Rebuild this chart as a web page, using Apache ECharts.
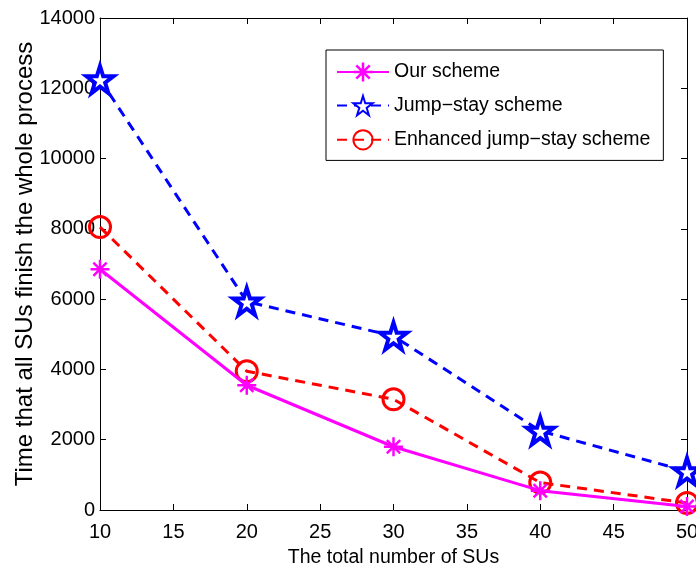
<!DOCTYPE html>
<html>
<head>
<meta charset="utf-8">
<script src="https://cdn.jsdelivr.net/npm/echarts@6/dist/echarts.min.js"></script>
<style>html,body{margin:0;padding:0;background:#fff}#c{width:696px;height:573px}</style>
</head>
<body>
<div id="c"></div>
<script>
const xValues = [10, 20, 30, 40, 50];
const ourScheme = [6850, 3550, 1800, 550, 100];
const jumpStay = [12250, 5930, 4950, 2250, 1100];
const enhancedJumpStay = [8050, 3950, 3150, 780, 200];
const seriesNames = ['Our scheme', 'Jump\u2212stay scheme', 'Enhanced jump\u2212stay scheme'];
const xTitle = 'The total number of SUs';
const yTitle = 'Time that all SUs finish the whole process';

const FONT = '"Liberation Sans", Arial, Helvetica, sans-serif';
const asterisk = 'path://M0 43.5 L100 43.5 L100 56.5 L0 56.5 Z M43.5 0 L56.5 0 L56.5 100 L43.5 100 Z M10.4 19.6 L19.6 10.4 L89.6 80.4 L80.4 89.6 Z M80.4 10.4 L89.6 19.6 L19.6 89.6 L10.4 80.4 Z';
const star = 'path://M50 0 L61.23 34.55 L97.55 34.55 L68.16 55.9 L79.39 90.45 L50 69.1 L20.61 90.45 L31.84 55.9 L2.45 34.55 L38.77 34.55 Z';

function pairs(vals){ return xValues.map((x,i)=>[x, vals[i]]); }

const axisCommon = {
  axisLine: {show: true, onZero: false, lineStyle: {color: '#000', width: 1}},
  axisTick: {show: true, inside: true, length: 6, lineStyle: {color: '#000', width: 1}},
  splitLine: {show: false}
};

const chart = echarts.init(document.getElementById('c'), null, {renderer: 'canvas'});
chart.setOption({
  animation: false,
  backgroundColor: '#fff',
  textStyle: {fontFamily: FONT, color: '#000'},
  grid: {left: 100, top: 18, right: 9, bottom: 63, containLabel: false, outerBoundsMode: 'none'},
  legend: {
    orient: 'vertical',
    left: 326, top: 50,
    padding: [12, 13, 10, 10],
    itemWidth: 52, itemHeight: 24, itemGap: 13,
    borderColor: '#000', borderWidth: 1, backgroundColor: '#fff',
    textStyle: {fontFamily: FONT, fontSize: 19.5, color: '#000'},
    data: seriesNames
  },
  xAxis: [
    Object.assign({
      type: 'value', min: 10, max: 50, interval: 5, position: 'bottom',
      name: xTitle, nameLocation: 'middle', nameGap: 38, nameMoveOverlap: false,
      nameTextStyle: {fontFamily: FONT, fontSize: 19.5, color: '#000'},
      axisLabel: {fontFamily: FONT, fontSize: 20, color: '#000', margin: 12}
    }, axisCommon),
    Object.assign({
      type: 'value', min: 10, max: 50, interval: 5, position: 'top',
      axisLabel: {show: false}
    }, axisCommon)
  ],
  yAxis: [
    Object.assign({
      type: 'value', min: 0, max: 14000, interval: 2000, position: 'left',
      name: yTitle, nameLocation: 'middle', nameGap: 63, nameMoveOverlap: false,
      nameTextStyle: {fontFamily: FONT, fontSize: 24, color: '#000'},
      axisLabel: {fontFamily: FONT, fontSize: 20, color: '#000', margin: 5,
        formatter: function(v){ return String(v); }}
    }, axisCommon),
    Object.assign({
      type: 'value', min: 0, max: 14000, interval: 2000, position: 'right',
      axisLabel: {show: false}
    }, axisCommon)
  ],
  series: [
    {
      name: seriesNames[0], type: 'line', data: pairs(ourScheme), clip: false,
      symbol: asterisk, symbolSize: 19, z: 5,
      lineStyle: {color: '#ff00ff', width: 3, type: 'solid'},
      itemStyle: {color: '#ff00ff', borderWidth: 0}
    },
    {
      name: seriesNames[1], type: 'line', data: pairs(jumpStay), clip: false,
      symbol: star, symbolSize: 27, z: 4,
      lineStyle: {color: '#0000ff', width: 3, type: [10, 7]},
      itemStyle: {color: '#ffffff', borderColor: '#0000ff', borderWidth: 4}
    },
    {
      name: seriesNames[2], type: 'line', data: pairs(enhancedJumpStay), clip: false,
      symbol: 'circle', symbolSize: 21, z: 3,
      lineStyle: {color: '#ff0000', width: 3, type: [10, 7]},
      itemStyle: {color: 'rgba(255,255,255,0)', borderColor: '#ff0000', borderWidth: 3}
    }
  ]
});
</script>
</body>
</html>
